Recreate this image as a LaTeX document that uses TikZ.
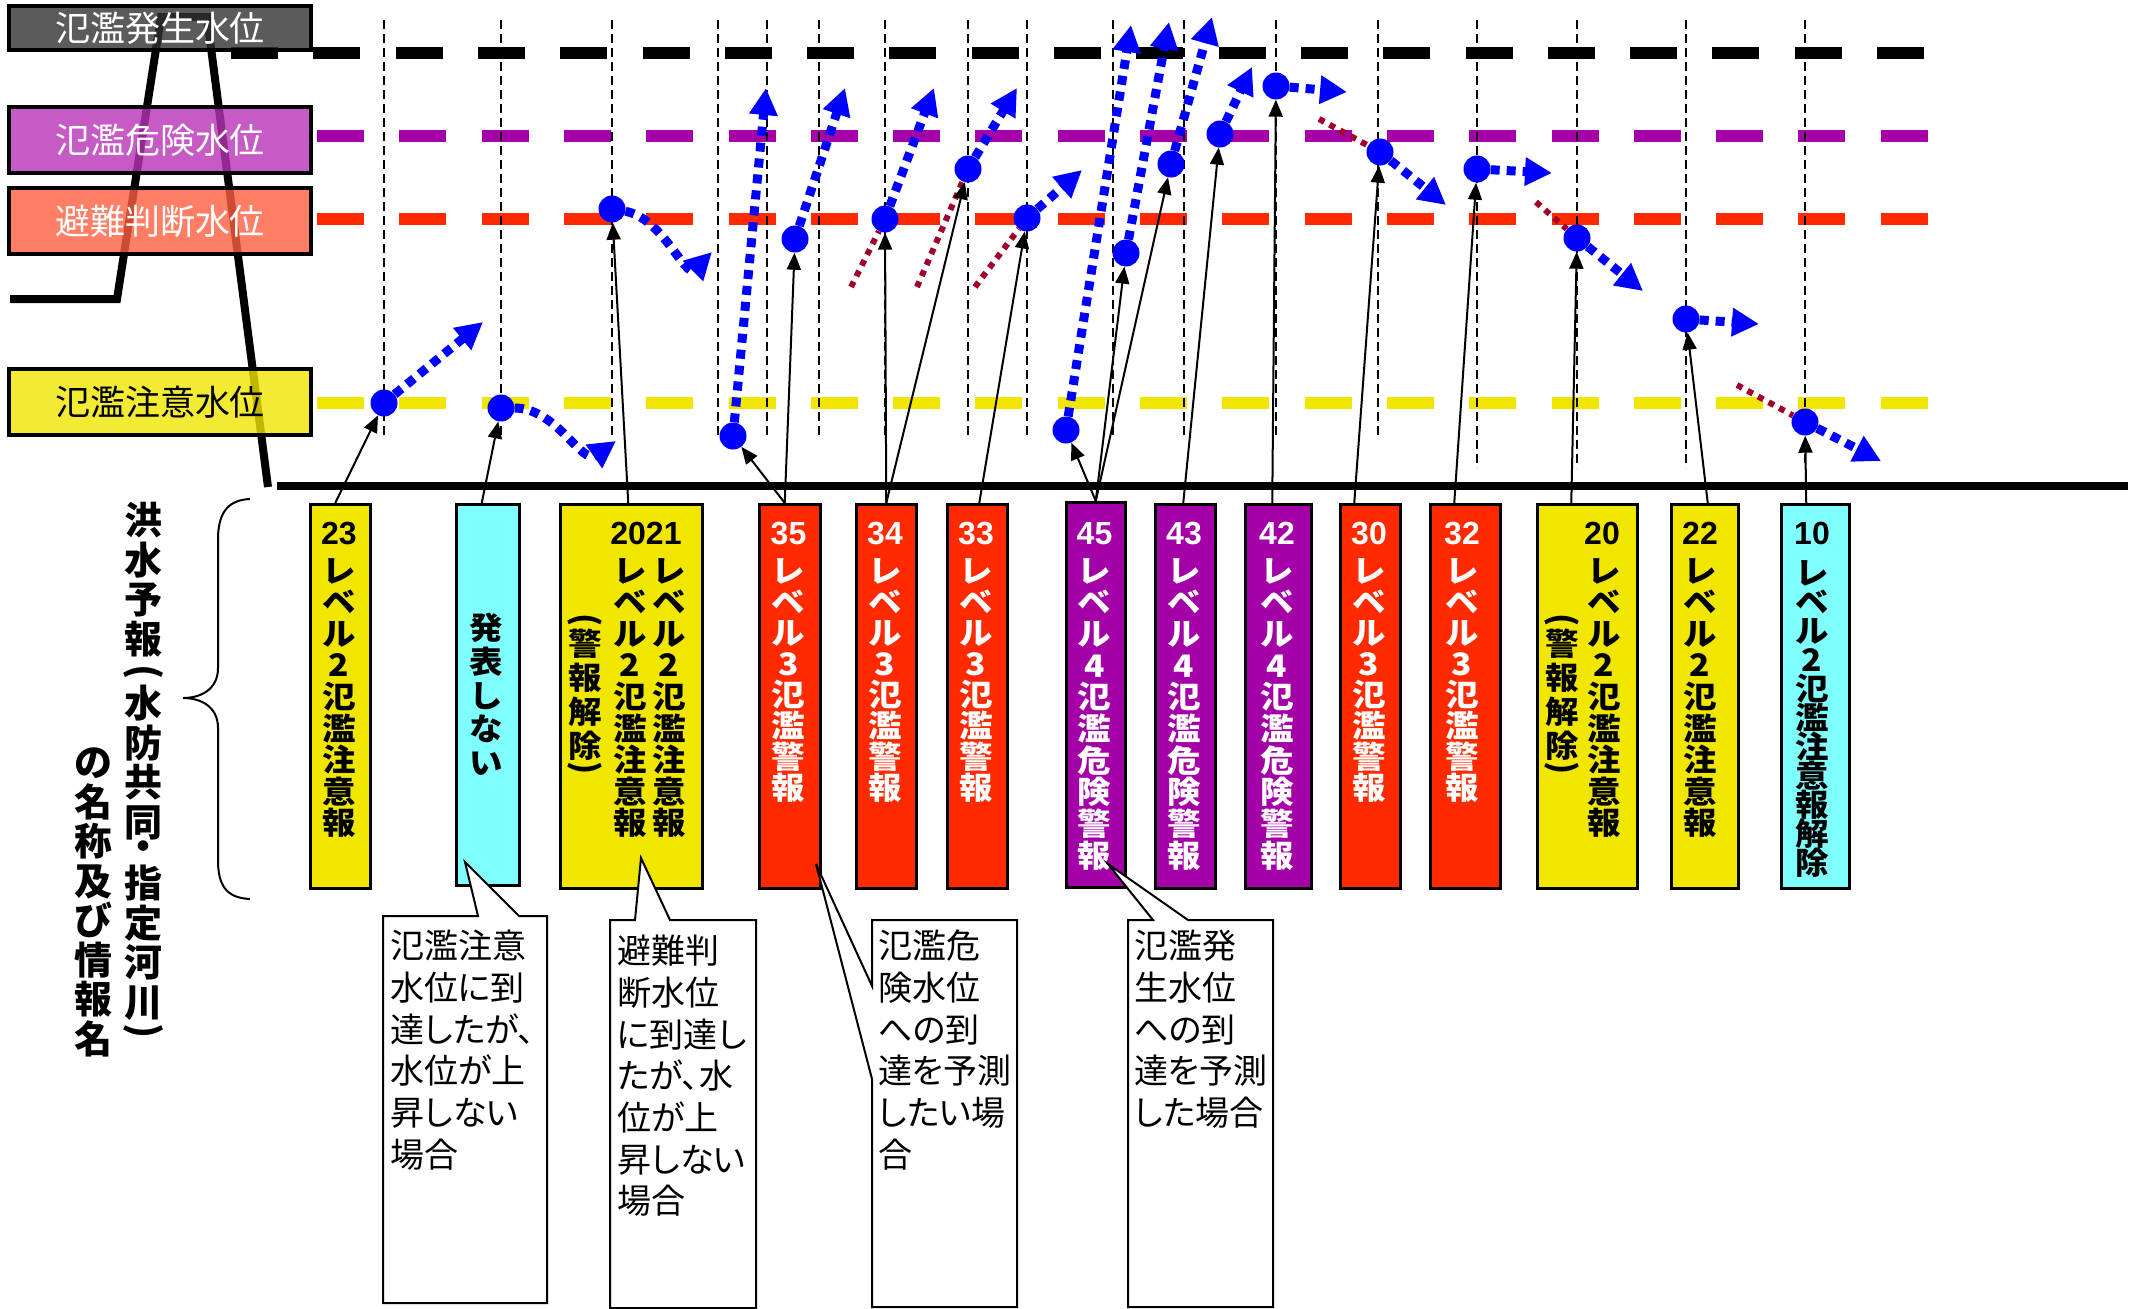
\documentclass[tikz,border=0pt]{standalone}
\usepackage{fontspec}
\setmainfont{Noto Sans CJK JP}
\newfontfamily\jpw{Noto Sans CJK JP}[FakeStretch=1.08]
\newfontfamily\jpp{Noto Sans CJK JP}[RawFeature=+palt]
\newfontfamily\numf{Liberation Sans}
\usetikzlibrary{arrows.meta,calc}
\newcommand\myfs[2]{\fontsize{#1}{#2}\selectfont\lineskiplimit=-100pt\lineskip=0pt\relax}
\definecolor{cyel}{HTML}{F0E600}
\definecolor{ccyan}{HTML}{80FFFF}
\definecolor{cred}{HTML}{FF2A00}
\definecolor{cpur}{HTML}{A400A8}
\definecolor{tdark}{HTML}{333333}
\definecolor{tpur}{HTML}{B832B8}
\definecolor{tred}{HTML}{FF6040}
\definecolor{dred}{HTML}{A0002A}
\definecolor{cblue}{HTML}{0000FF}
\begin{document}
\begin{tikzpicture}[x=1pt,y=-1pt,
  lvl/.style={line width=12pt, dash pattern=on 47pt off 35.3pt},
  vguide/.style={line width=1.8pt, dash pattern=on 9pt off 5pt},
  bluearr/.style={draw=cblue, line width=9pt, dash pattern=on 9pt off 7pt, -{Triangle[length=27pt,width=27pt]}},
  redtrail/.style={draw=dred, line width=6pt, dash pattern=on 6pt off 6pt},
  wdot/.style={circle, fill=cblue, minimum size=27pt, inner sep=0pt},
  ptr/.style={line width=2pt, -{Triangle[length=17pt,width=14pt]}},
  tbox/.style={draw=black, line width=4pt, minimum width=302pt, inner sep=0pt, fill opacity=0.8, text opacity=1, font=\myfs{35}{35}},
  lbox/.style={draw=black, line width=2.5pt, minimum width=#1, minimum height=384pt, anchor=north west, inner sep=0pt},
  vcol/.style={align=center, inner sep=0pt, anchor=north, font=\jpw\bfseries\myfs{31}{#1}},
  vcol/.default=31.5,
  vpar/.style={rotate=-90, inner sep=0pt, font=\bfseries\myfs{#1}{#1}},
  vpar/.default=33,
  digs/.style={inner sep=0pt, anchor=north, font=\numf\bfseries\myfs{32}{32}},
  lbl/.style={align=center, inner sep=0pt, font=\bfseries\myfs{38}{39.5}},
  ctext/.style={align=left, inner sep=0pt, anchor=north west, font=\jpp\myfs{34}{41.7}},
  callout/.style={fill=white, draw=black, line width=2pt, line join=miter}
]
\useasboundingbox (0,0) rectangle (2134,1309);
\fill[white] (0,0) rectangle (2134,1309);

% hydrograph outline
\draw[line width=8pt, line join=miter] (10,299) -- (117,299) -- (161,17) -- (207,17) -- (268,487);

% water level lines
\draw[lvl, black] (231,53) -- (1924,53);
\draw[lvl, cpur] (317,136) -- (1928,136);
\draw[lvl, cred] (317,219) -- (1928,219);
\draw[lvl, cyel] (317,403) -- (1928,403);

% level title boxes
\node[tbox, fill=tdark, text=white, minimum height=44pt] (T1) at (160,28) {氾濫発生水位};
\node[tbox, fill=tpur, text=white, minimum height=66pt] (T2) at (160,140) {氾濫危険水位};
\node[tbox, fill=tred, text=white, minimum height=66pt] (T3) at (160,221) {避難判断水位};
\node[tbox, fill=cyel, text=black, minimum height=66pt] (T4) at (160,402) {氾濫注意水位};

% vertical guides
\foreach \x in {384,501,612,718,767,819,885,968,1027,1113,1184,1276,1378}
  \draw[vguide] (\x,20) -- (\x,435);
\foreach \x in {1477,1577,1686,1805}
  \draw[vguide] (\x,20) -- (\x,468);

% ground
\draw[line width=8pt] (277,486) -- (2128,486);

% dots
\node[wdot] (dA) at (384,403) {};
\node[wdot] (dB) at (501,408) {};
\node[wdot] (dC) at (612,209) {};
\node[wdot] (dD) at (733,436) {};
\node[wdot] (dE) at (795,239) {};
\node[wdot] (dF) at (885,219) {};
\node[wdot] (dG) at (968,169) {};
\node[wdot] (dH) at (1027,218) {};
\node[wdot] (dI) at (1066,430) {};
\node[wdot] (dJ) at (1126,253) {};
\node[wdot] (dK) at (1171,164) {};
\node[wdot] (dL) at (1220,134) {};
\node[wdot] (dM) at (1276,86) {};
\node[wdot] (dN) at (1380,152) {};
\node[wdot] (dO) at (1477,169) {};
\node[wdot] (dP) at (1577,238) {};
\node[wdot] (dQ) at (1686,319) {};
\node[wdot] (dR) at (1805,422) {};

% arrow end points
\coordinate (a1) at (483,322);
\coordinate (b1) at (616,441);
\coordinate (c1) at (712,252);
\coordinate (d1) at (766,88);
\coordinate (e1) at (845,88);
\coordinate (f1) at (934,88);
\coordinate (g1) at (1017,88);
\coordinate (h1) at (1082,170);
\coordinate (i1) at (1131,25);
\coordinate (j1) at (1169,22);
\coordinate (k1) at (1212,17);
\coordinate (l1) at (1252,67);
\coordinate (m1) at (1347,92);
\coordinate (n1) at (1446,205);
\coordinate (o1) at (1552,173);
\coordinate (p1) at (1643,291);
\coordinate (q1) at (1759,324);
\coordinate (r1) at (1881,461);
% trail starts
\coordinate (tf) at (851,287);
\coordinate (tg) at (917,287);
\coordinate (th) at (975,287);
\coordinate (tn) at (1319,119);
\coordinate (tp) at (1536,202);
\coordinate (tr) at (1737,385);

\draw[redtrail] (tf) -- (dF);
\draw[redtrail] (tg) -- (dG);
\draw[redtrail] (th) -- (dH);
\draw[redtrail] (tn) -- (dN);
\draw[redtrail] (tp) -- (dP);
\draw[redtrail] (tr) -- (dR);

\draw[bluearr] (dA) -- (a1);
\draw[bluearr] (dB) to[out=0,in=215] (b1);
\draw[bluearr] (dC) to[out=-10,in=225] (c1);
\draw[bluearr] (dD) -- (d1);
\draw[bluearr] (dE) -- (e1);
\draw[bluearr] (dF) -- (f1);
\draw[bluearr] (dG) -- (g1);
\draw[bluearr] (dH) -- (h1);
\draw[bluearr] (dI) -- (i1);
\draw[bluearr] (dJ) -- (j1);
\draw[bluearr] (dK) -- (k1);
\draw[bluearr] (dL) -- (l1);
\draw[bluearr] (dM) -- (m1);
\draw[bluearr] (dN) -- (n1);
\draw[bluearr] (dO) -- (o1);
\draw[bluearr] (dP) -- (p1);
\draw[bluearr] (dQ) -- (q1);
\draw[bluearr] (dR) -- (r1);

% forecast boxes
\node[lbox=60pt, fill=cyel] (b23) at (309,503) {};
\node[lbox=63pt, fill=ccyan, minimum height=381pt] (bno) at (455,503) {};
\node[lbox=142pt, fill=cyel] (b2021) at (559,503) {};
\node[lbox=61pt, fill=cred] (b35) at (758,503) {};
\node[lbox=60pt, fill=cred] (b34) at (855,503) {};
\node[lbox=60pt, fill=cred] (b33) at (946,503) {};
\node[lbox=59pt, fill=cpur, minimum height=385pt] (b45) at (1065,501) {};
\node[lbox=60pt, fill=cpur] (b43) at (1154,503) {};
\node[lbox=66pt, fill=cpur] (b42) at (1244,503) {};
\node[lbox=60pt, fill=cred] (b30) at (1339,503) {};
\node[lbox=70pt, fill=cred] (b32) at (1429,503) {};
\node[lbox=100pt, fill=cyel] (b20) at (1536,503) {};
\node[lbox=67pt, fill=cyel] (b22) at (1670,503) {};
\node[lbox=68pt, fill=ccyan] (b10) at (1780,503) {};

% texts in boxes
\node[digs] (n23) at (339,522) {23};
\node[vcol=31.6] (v23) at (339,558) {レ\\ベ\\ル\\2\\氾\\濫\\注\\意\\報};
\node[vcol=33.75] (vno) at (486.5,613) {発\\表\\し\\な\\い};
\node[digs] (n2021) at (646,522) {2021};
\node[vcol=31.6] (v21) at (669,558) {レ\\ベ\\ル\\2\\氾\\濫\\注\\意\\報};
\node[vcol=31.6] (v20a) at (630,558) {レ\\ベ\\ル\\2\\氾\\濫\\注\\意\\報};
\node[vpar] (p20a) at (585,620) {(};
\node[vcol=34] (k20a) at (585,629) {警\\報\\解\\除};
\node[vpar] (q20a) at (585,768) {)};
\node[digs, text=white] (n35) at (788.5,522) {35};
\node[vcol=31, text=white] (v35) at (788.5,558) {レ\\ベ\\ル\\3\\氾\\濫\\警\\報};
\node[digs, text=white] (n34) at (885,522) {34};
\node[vcol=31, text=white] (v34) at (885,558) {レ\\ベ\\ル\\3\\氾\\濫\\警\\報};
\node[digs, text=white] (n33) at (976,522) {33};
\node[vcol=31, text=white] (v33) at (976,558) {レ\\ベ\\ル\\3\\氾\\濫\\警\\報};
\node[digs, text=white] (n45) at (1094.5,522) {45};
\node[vcol=31.7, text=white] (v45) at (1094.5,558) {レ\\ベ\\ル\\4\\氾\\濫\\危\\険\\警\\報};
\node[digs, text=white] (n43) at (1184,522) {43};
\node[vcol=31.7, text=white] (v43) at (1184,558) {レ\\ベ\\ル\\4\\氾\\濫\\危\\険\\警\\報};
\node[digs, text=white] (n42) at (1277,522) {42};
\node[vcol=31.7, text=white] (v42) at (1277,558) {レ\\ベ\\ル\\4\\氾\\濫\\危\\険\\警\\報};
\node[digs, text=white] (n30) at (1369,522) {30};
\node[vcol=31, text=white] (v30) at (1369,558) {レ\\ベ\\ル\\3\\氾\\濫\\警\\報};
\node[digs, text=white] (n32) at (1462,522) {32};
\node[vcol=31, text=white] (v32) at (1462,558) {レ\\ベ\\ル\\3\\氾\\濫\\警\\報};
\node[digs] (n20) at (1602,522) {20};
\node[vcol=31.6] (v20) at (1604,558) {レ\\ベ\\ル\\2\\氾\\濫\\注\\意\\報};
\node[vpar] (p20) at (1562,620) {(};
\node[vcol=34] (k20) at (1562,629) {警\\報\\解\\除};
\node[vpar] (q20) at (1562,768) {)};
\node[digs] (n22) at (1700,522) {22};
\node[vcol=31.6] (v22) at (1700,558) {レ\\ベ\\ル\\2\\氾\\濫\\注\\意\\報};
\node[digs] (n10) at (1812,522) {10};
\node[vcol=29] (v10) at (1812,560) {レ\\ベ\\ル\\2\\氾\\濫\\注\\意\\報\\解\\除};

% pointers from boxes to dots
\draw[ptr] ($(b23.north)+(-5,0)$) -- (dA);
\draw[ptr] ($(bno.north)+(-6,0)$) -- (dB);
\draw[ptr] ($(b2021.north)+(-3,0)$) -- (dC);
\draw[ptr] ($(b35.north)+(-5,0)$) -- (dD);
\draw[ptr] ($(b35.north)+(-5,0)$) -- (dE);
\draw[ptr] (b34.north) -- (dF);
\draw[ptr] (b34.north) -- (dG);
\draw[ptr] ($(b33.north)+(2,0)$) -- (dH);
\draw[ptr] (b45.north) -- (dI);
\draw[ptr] (b45.north) -- (dJ);
\draw[ptr] (b45.north) -- (dK);
\draw[ptr] ($(b43.north)+(-2,0)$) -- (dL);
\draw[ptr] ($(b42.north)+(-6,0)$) -- (dM);
\draw[ptr] ($(b30.north)+(-16,0)$) -- (dN);
\draw[ptr] ($(b32.north)+(-11,0)$) -- (dO);
\draw[ptr] ($(b20.north)+(-16,0)$) -- (dP);
\draw[ptr] ($(b22.north)+(3,0)$) -- (dQ);
\draw[ptr] ($(b10.north)+(-9,0)$) -- (dR);

% callouts
\draw[callout] (383,916) -- (478,916) -- (465,862) -- (519,916) -- (547,916) -- (547,1303) -- (383,1303) -- cycle;
\node[ctext] (C1) at (390,930) {氾濫注意\\水位に到\\達したが、\\水位が上\\昇しない\\場合};
\draw[callout] (610,920) -- (635,920) -- (641,858) -- (670,920) -- (756,920) -- (756,1308) -- (610,1308) -- cycle;
\node[ctext] (C2) at (617,935) {避難判\\断水位\\に到達し\\たが、水\\位が上\\昇しない\\場合};
\draw[callout] (872,920) -- (1017,920) -- (1017,1307) -- (872,1307) -- (872,1079) -- (816,864) -- (872,986) -- cycle;
\node[ctext] (C3) at (878,930) {氾濫危\\険水位\\への到\\達を予測\\したい場\\合};
\draw[callout] (1128,920) -- (1153,920) -- (1108,864) -- (1188,920) -- (1273,920) -- (1273,1307) -- (1128,1307) -- cycle;
\node[ctext] (C4) at (1134,930) {氾濫発\\生水位\\への到\\達を予測\\した場合};

% brace
\draw[line width=2pt] (250,499) .. controls (226,500) and (218,515) .. (218,540) -- (218,668) .. controls (218,690) and (200,698) .. (183,698) .. controls (200,698) and (218,706) .. (218,728) -- (218,860) .. controls (218,885) and (226,898) .. (250,899);

% side title
\node[lbl, anchor=north] (L1) at (143.5,502) {洪\\水\\予\\報};
\node[vpar=38] (L2) at (143.5,672) {(};
\node[lbl, anchor=north] (L3) at (143.5,685) {水\\防\\共\\同};
\node[lbl, anchor=center] (L4) at (143.5,851) {・};
\node[lbl, anchor=north] (L5) at (143.5,865) {指\\定\\河\\川};
\node[vpar=38] (L6) at (143.5,1031) {)};
\node[lbl, anchor=north] (L7) at (93.5,748) {の\\名\\称\\及\\び\\情\\報\\名};
\end{tikzpicture}
\end{document}
